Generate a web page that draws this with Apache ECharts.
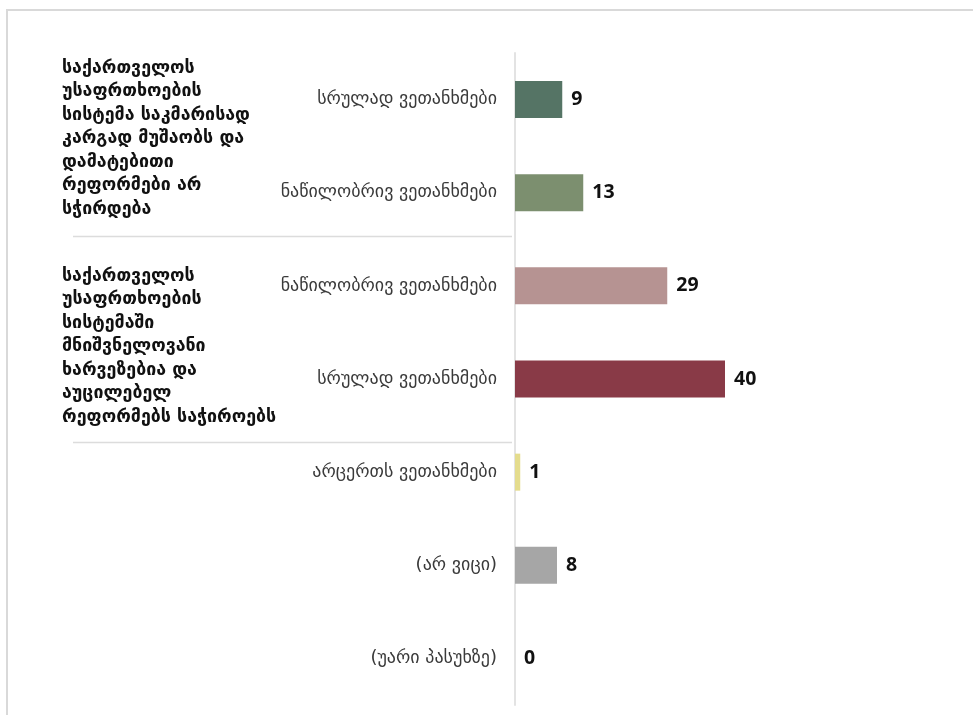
<!DOCTYPE html>
<html>
<head>
<meta charset="utf-8">
<script src="https://cdn.jsdelivr.net/npm/echarts@6/dist/echarts.min.js"></script>
<style>
html,body{margin:0;padding:0;background:#fff;}
#main{width:973px;height:715px;}
</style>
</head>
<body>
<div id="main"></div>
<script>
const categories = [
  "სრულად ვეთანხმები",
  "ნაწილობრივ ვეთანხმები",
  "ნაწილობრივ ვეთანხმები",
  "სრულად ვეთანხმები",
  "არცერთს ვეთანხმები",
  "(არ ვიცი)",
  "(უარი პასუხზე)"
];
const values = [9, 13, 29, 40, 1, 8, 0];
const barColors = ["#557465", "#7c8f6f", "#b69392", "#893a47", "#e4dc8d", "#a6a6a6", "#a6a6a6"];
const groupLabels = [
  "საქართველოს\nუსაფრთხოების\nსისტემა საკმარისად\nკარგად მუშაობს და\nდამატებითი\nრეფორმები არ\nსჭირდება",
  "საქართველოს\nუსაფრთხოების\nსისტემაში\nმნიშვნელოვანი\nხარვეზებია და\nაუცილებელ\nრეფორმებს საჭიროებს"
];

const chart = echarts.init(document.getElementById('main'));
const option = {
  animation: false,
  backgroundColor: '#ffffff',
  grid: { left: 515, top: 53, width: 420, bottom: 10, containLabel: false },
  xAxis: {
    type: 'value', min: 0, max: 80,
    show: false, splitLine: { show: false }
  },
  yAxis: {
    type: 'category', data: categories, inverse: true,
    axisLine: { show: true, lineStyle: { color: '#e3e3e3', width: 2 } },
    axisTick: { show: false },
    axisLabel: { margin: 18, color: '#3a3a3a', fontSize: 18, fontFamily: 'DejaVu Sans' }
  },
  series: [{
    type: 'bar',
    data: values.map((v, i) => ({ value: v, itemStyle: { color: barColors[i] } })),
    barWidth: 37,
    label: {
      show: true, position: 'right', distance: 9,
      color: '#111', fontWeight: 'bold', fontSize: 19.5, fontFamily: 'Open Sans'
    }
  }]
};
chart.setOption(option);

// layout positions (in category-index units) for decorations
const sepPos = [1.47, 3.68];
const groupPos = [0.42, 2.65];

function catY(p) {
  const i = Math.floor(p);
  const y0 = chart.convertToPixel({ yAxisIndex: 0 }, i);
  const y1 = chart.convertToPixel({ yAxisIndex: 0 }, i + 1);
  return y0 + (y1 - y0) * (p - i);
}

function buildGraphics() {
  const g = [];
  g.push({ type: 'line', shape: { x1: 6, y1: 10, x2: 973, y2: 10 }, style: { stroke: '#d9d9d9', lineWidth: 2 } });
  g.push({ type: 'line', shape: { x1: 7, y1: 10, x2: 7, y2: 715 }, style: { stroke: '#d9d9d9', lineWidth: 2 } });
  sepPos.forEach(p => {
    const y = Math.round(catY(p)) + 0.5;
    g.push({ type: 'line', shape: { x1: 73, y1: y, x2: 512, y2: y }, style: { stroke: '#dcdcdc', lineWidth: 1.5 } });
  });
  groupPos.forEach((p, gi) => {
    g.push({
      type: 'text', x: 62, y: catY(p),
      style: {
        text: groupLabels[gi], fill: '#111', fontWeight: 'bold', fontSize: 17.8,
        fontFamily: 'DejaVu Sans', lineHeight: 23.5, align: 'left', verticalAlign: 'middle'
      }
    });
  });
  chart.setOption({ graphic: g });
}
buildGraphics();
</script>
</body>
</html>
